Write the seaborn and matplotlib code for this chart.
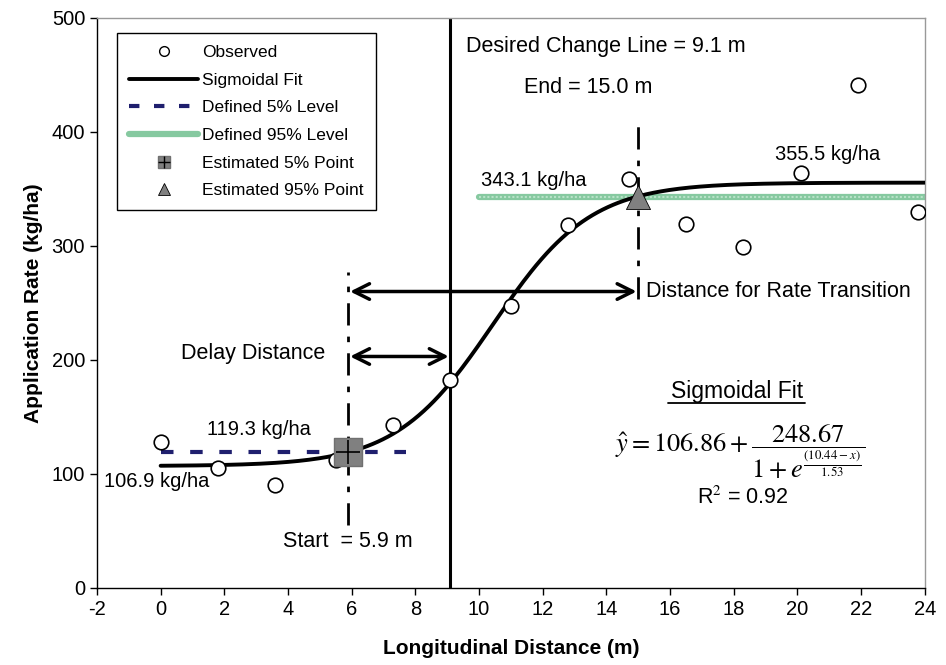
import numpy as np
import pandas as pd
import matplotlib
matplotlib.use("Agg")
import matplotlib.pyplot as plt
import seaborn as sns
from matplotlib.lines import Line2D

# ---- data ----
obs_x = [0.0, 1.8, 3.6, 5.5, 7.3, 9.1, 11.0, 12.8, 14.7, 16.5, 18.3, 20.1, 21.9, 23.8]
obs_y = [128, 105, 90, 112, 143, 182, 247, 318, 359, 319, 299, 364, 441, 330]
fit_a, fit_b, fit_c, fit_d = 106.86, 248.67, 10.44, 1.53
level5 = 119.3
level95 = 343.1
start_x = 5.9
end_x = 15.0
change_x = 9.1
level5_span = [0.0, 7.7]
level95_span = [10.0, 24.0]
fit_span = [0.0, 24.0]

sns.set_style("ticks")
plt.rcParams['font.family'] = ['Liberation Sans', 'DejaVu Sans']
plt.rcParams['mathtext.fontset'] = 'stix'
plt.rcParams['axes.unicode_minus'] = False
plt.rcParams['text.color'] = 'black'
plt.rcParams['axes.labelcolor'] = 'black'

fig = plt.figure(figsize=(9.46, 6.65), dpi=100)
ax = fig.add_axes([0.1025, 0.116, 0.875, 0.857])

fx = np.linspace(fit_span[0], fit_span[1], 300)
fy = fit_a + fit_b / (1 + np.exp((fit_c - fx) / fit_d))
fit_df = pd.DataFrame({"x": fx, "y": fy})
obs_df = pd.DataFrame({"x": obs_x, "y": obs_y})

# reference lines
ax.axvline(change_x, color='black', lw=2.2, zorder=1)
ax.plot(level5_span, [level5, level5], color='#1f1f6e', lw=3, dashes=(3, 4), zorder=2)
ax.plot(level95_span, [level95, level95], color='#86c9a0', lw=4.5, zorder=2)
ax.plot(level95_span, [level95, level95], color='#b8e2c8', lw=1.5, ls=(0, (1, 1)), zorder=2)
ax.plot([start_x, start_x], [55, 277], color='black', lw=2, ls=(0, (8, 4, 2, 4)), zorder=2)
ax.plot([end_x, end_x], [253, 410], color='black', lw=2, ls=(0, (8, 4, 2, 4)), zorder=2)

sns.lineplot(data=fit_df, x="x", y="y", ax=ax, color='black', lw=2.8, zorder=3, legend=False)
sns.scatterplot(data=obs_df, x="x", y="y", ax=ax, marker='o', s=110,
                facecolor='white', edgecolor='black', linewidth=1.2, zorder=4, legend=False)
ax.scatter([start_x], [level5], marker='s', s=380, color='#808080', zorder=5,
           edgecolor='#707070')
ax.scatter([start_x], [level5], marker='+', s=300, color='black', linewidth=1.2, zorder=6)
ax.scatter([end_x], [level95], marker='^', s=300, color='#808080', edgecolor='black',
           linewidth=0.6, zorder=5)

# arrows
ap = dict(arrowstyle='<->', lw=2.5, color='black', mutation_scale=28, shrinkA=0, shrinkB=0)
ax.annotate('', xy=(start_x + 0.05, 260), xytext=(end_x - 0.05, 260), arrowprops=ap)
ax.annotate('', xy=(start_x + 0.05, 203), xytext=(change_x - 0.05, 203), arrowprops=ap)

fs = 15.5
fs2 = 14.5
ax.text(9.6, 475, 'Desired Change Line = 9.1 m', fontsize=fs, va='center')
ax.text(11.4, 439, 'End = 15.0 m', fontsize=fs, va='center')
ax.text(10.05, 357, '343.1 kg/ha', fontsize=fs2, va='center')
ax.text(19.3, 380, '355.5 kg/ha', fontsize=fs2, va='center')
ax.text(15.25, 260, 'Distance for Rate Transition', fontsize=fs, va='center')
ax.text(0.65, 206, 'Delay Distance', fontsize=fs, va='center')
ax.text(1.45, 139, '119.3 kg/ha', fontsize=fs2, va='center')
ax.text(-1.78, 93, '106.9 kg/ha', fontsize=fs2, va='center')
ax.text(3.85, 41, 'Start  = 5.9 m', fontsize=fs, va='center')
ax.text(18.1, 172, 'Sigmoidal Fit', fontsize=16.5, va='center', ha='center')
ax.plot([15.95, 20.25], [162.5, 162.5], color='black', lw=1.3)
ax.text(18.2, 120,
        r'$\hat{y} = 106.86 + \dfrac{248.67}{1 + e^{\frac{(10.44-x)}{1.53}}}$',
        fontsize=19, va='center', ha='center')
ax.text(18.3, 79, r'R$^2$ = 0.92', fontsize=15.5, va='center', ha='center')

ax.set_xlim(-2, 24)
ax.set_ylim(0, 500)
ax.set_xticks(range(-2, 25, 2))
ax.set_yticks(range(0, 501, 100))
ax.tick_params(axis='both', labelsize=14.5, direction='out', length=5, width=1, colors='black')
ax.set_xlabel('Longitudinal Distance (m)', fontsize=15, fontweight='bold', labelpad=15)
ax.set_ylabel('Application Rate (kg/ha)', fontsize=15, fontweight='bold', labelpad=6)
for sp in ax.spines.values():
    sp.set_visible(True)
    sp.set_color('black')
    sp.set_linewidth(1)
ax.spines['top'].set_color('#999999')
ax.spines['right'].set_color('#999999')

# legend
h_obs = Line2D([], [], ls='none', marker='o', ms=7, mfc='white', mec='black', mew=1)
h_fit = Line2D([], [], color='black', lw=2.8)
h_l5 = Line2D([], [], color='#1f1f6e', lw=3, dashes=(2.5, 3.5))
h_l95 = Line2D([], [], color='#86c9a0', lw=4.5)
h_sq = Line2D([], [], ls='none', marker='s', ms=9, mfc='#808080', mec='#707070')
h_pl = Line2D([], [], ls='none', marker='+', ms=9, mec='black', mew=1)
h_tri = Line2D([], [], ls='none', marker='^', ms=9, mfc='#808080', mec='black', mew=0.6)
labels = ['Observed', 'Sigmoidal Fit', 'Defined 5% Level', 'Defined 95% Level',
          'Estimated 5% Point', 'Estimated 95% Point']
leg = ax.legend([h_obs, h_fit, h_l5, h_l95, (h_sq, h_pl), h_tri], labels, loc='upper left',
                bbox_to_anchor=(0.024, 0.974), borderaxespad=0, fontsize=12.5, frameon=True,
                fancybox=False, edgecolor='black', framealpha=1,
                handlelength=4.0, labelspacing=0.72, borderpad=0.7, handletextpad=0.2)
leg.get_frame().set_linewidth(1)

fig.savefig('out.png', dpi=100)
